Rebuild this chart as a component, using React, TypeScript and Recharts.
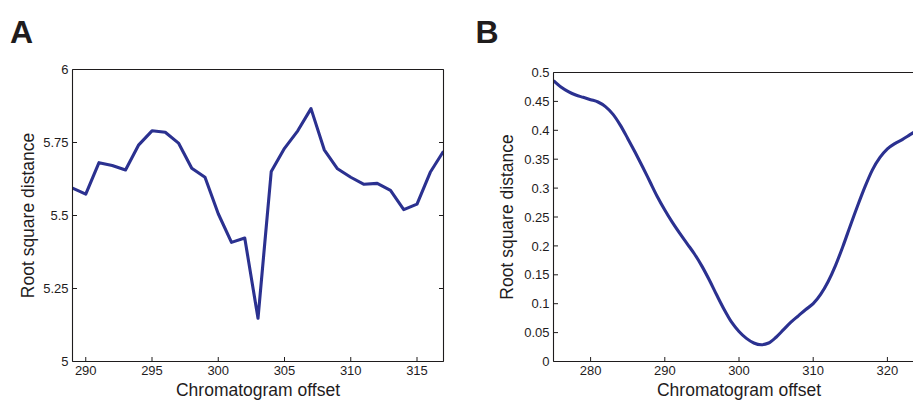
import React from "react"
import { LineChart, Line, XAxis, YAxis } from "recharts"

// Panel A: root square distance against chromatogram offset (raw)
const offsetsA = [289, 290, 291, 292, 293, 294, 295, 296, 297, 298, 299, 300, 301, 302, 303, 304, 305, 306, 307, 308, 309, 310, 311, 312, 313, 314, 315, 316, 317]
const distA = [5.594, 5.573, 5.681, 5.671, 5.656, 5.742, 5.79, 5.785, 5.748, 5.662, 5.631, 5.506, 5.408, 5.423, 5.148, 5.651, 5.73, 5.79, 5.866, 5.725, 5.66, 5.631, 5.607, 5.61, 5.586, 5.52, 5.539, 5.648, 5.72]
const xTicksA = [290, 295, 300, 305, 310, 315]
const yTicksA = [5, 5.25, 5.5, 5.75, 6]

// Panel B: smoothed curve
const offsetsB = [275, 276, 277, 278, 279, 280, 281, 282, 283, 284, 285, 286, 287, 288, 289, 290, 291, 292, 293, 294, 295, 296, 297, 298, 299, 300, 301, 302, 303, 304, 305, 306, 307, 308, 309, 310, 311, 312, 313, 314, 315, 316, 317, 318, 319, 320, 321, 322, 323, 324]
const distB = [0.486, 0.475, 0.467, 0.461, 0.457, 0.453, 0.449, 0.441, 0.428, 0.409, 0.386, 0.362, 0.337, 0.311, 0.285, 0.262, 0.241, 0.222, 0.204, 0.186, 0.165, 0.141, 0.115, 0.09, 0.068, 0.052, 0.04, 0.032, 0.029, 0.032, 0.042, 0.055, 0.068, 0.079, 0.09, 0.1, 0.116, 0.138, 0.166, 0.199, 0.235, 0.27, 0.303, 0.332, 0.353, 0.368, 0.377, 0.384, 0.392, 0.4]
const xTicksB = [280, 290, 300, 310, 320]
const yTicksB = [0, 0.05, 0.1, 0.15, 0.2, 0.25, 0.3, 0.35, 0.4, 0.45, 0.5]

const dataA = offsetsA.map((x, i) => ({ x, d: distA[i] }))
const dataB = offsetsB.map((x, i) => ({ x, d: distB[i] }))

const INK = "#1f1c1d"
const BLUE = "#2b3190"
const FONT = "'Liberation Sans', Arial, Helvetica, sans-serif"
const TM = 4 // gap between axis and tick label
const TICK = 4.5 // inward tick length

// matlab-ish ticks: short lines pointing into the plot, labels outside
const makeTick = (side: "bottom" | "top" | "left" | "right") => (props: any) => {
  const { x, y, payload } = props
  if (side === "bottom") {
    const y0 = y - TM
    return (
      <g>
        <line x1={x} x2={x} y1={y0} y2={y0 - TICK} stroke={INK} />
        <text x={x} y={y} dy="0.71em" textAnchor="middle" fill={INK} fontSize={13} fontFamily={FONT}>
          {payload.value}
        </text>
      </g>
    )
  }
  if (side === "left") {
    const x0 = x + TM
    return (
      <g>
        <line x1={x0} x2={x0 + TICK} y1={y} y2={y} stroke={INK} />
        <text x={x} y={y} dy="0.355em" textAnchor="end" fill={INK} fontSize={13} fontFamily={FONT}>
          {payload.value}
        </text>
      </g>
    )
  }
  if (side === "top") return <line x1={x} x2={x} y1={y} y2={y + TICK} stroke={INK} />
  return <line x1={x} x2={x - TICK} y1={y} y2={y} stroke={INK} />
}

const titleStyle = { fill: INK, fontSize: 17.5, fontFamily: FONT }
const boxLine = { stroke: INK, strokeWidth: 1.1 }

function Panel(props: {
  data: { x: number; d: number }[]
  xDomain: [number, number]
  yDomain: [number, number]
  xTicks: number[]
  yTicks: number[]
  width: number
  margin: { top: number; right: number; bottom: number; left: number }
  yTitleOffset: number
  smooth: boolean
}) {
  const { data, xDomain, yDomain, xTicks, yTicks, width, margin, yTitleOffset, smooth } = props
  return (
    <LineChart width={width} height={401} data={data} margin={margin}>
      <XAxis
        dataKey="x"
        type="number"
        domain={xDomain}
        ticks={xTicks}
        interval={0}
        allowDataOverflow
        height={39.5}
        tickSize={0}
        tickMargin={TM}
        tickLine={false}
        axisLine={boxLine}
        tick={makeTick("bottom")}
        label={{ value: "Chromatogram offset", position: "insideBottom", offset: 4.7, style: titleStyle }}
      />
      <XAxis
        xAxisId="top"
        orientation="top"
        type="number"
        domain={xDomain}
        ticks={xTicks}
        interval={0}
        allowDataOverflow
        height={1}
        tickSize={0}
        tickMargin={0}
        tickLine={false}
        axisLine={boxLine}
        tick={makeTick("top")}
      />
      <YAxis
        type="number"
        domain={yDomain}
        ticks={yTicks}
        interval={0}
        allowDataOverflow
        width={60}
        tickSize={0}
        tickMargin={TM}
        tickLine={false}
        axisLine={boxLine}
        tick={makeTick("left")}
        label={{
          value: "Root square distance",
          angle: -90,
          position: "insideLeft",
          offset: yTitleOffset,
          style: { ...titleStyle, textAnchor: "middle" },
        }}
      />
      <YAxis
        yAxisId="right"
        orientation="right"
        type="number"
        domain={yDomain}
        ticks={yTicks}
        interval={0}
        allowDataOverflow
        width={1}
        tickSize={0}
        tickMargin={0}
        tickLine={false}
        axisLine={boxLine}
        tick={makeTick("right")}
      />
      <Line
        type={smooth ? "monotone" : "linear"}
        dataKey="d"
        stroke={BLUE}
        strokeWidth={3.1}
        strokeLinejoin="round"
        dot={false}
        activeDot={false}
        isAnimationActive={false}
      />
    </LineChart>
  )
}

const letterStyle: React.CSSProperties = {
  position: "absolute",
  top: 16.2,
  fontFamily: FONT,
  fontWeight: "bold",
  fontSize: 32,
  lineHeight: "32px",
  color: INK,
}

export default function App() {
  return (
    <div style={{ position: "absolute", left: 0, top: 0, width: 913, height: 401, overflow: "hidden", background: "#fff" }}>
      <div style={{ ...letterStyle, left: 10 }}>A</div>
      <div style={{ ...letterStyle, left: 475.5 }}>B</div>
      <div style={{ position: "absolute", left: 0, top: 0 }}>
        <Panel
          data={dataA}
          xDomain={[289, 317]}
          yDomain={[5, 6]}
          xTicks={xTicksA}
          yTicks={yTicksA}
          width={460}
          margin={{ top: 68.5, right: 15.5, bottom: 0, left: 12.5 }}
          yTitleOffset={14.8}
          smooth={false}
        />
      </div>
      <div style={{ position: "absolute", left: 470, top: 0 }}>
        <Panel
          data={dataB}
          xDomain={[275, 325]}
          yDomain={[0, 0.5]}
          xTicks={xTicksB}
          yTicks={yTicksB}
          width={470}
          margin={{ top: 71.5, right: 14.5, bottom: 0, left: 23.5 }}
          yTitleOffset={13.2}
          smooth
        />
      </div>
    </div>
  )
}
